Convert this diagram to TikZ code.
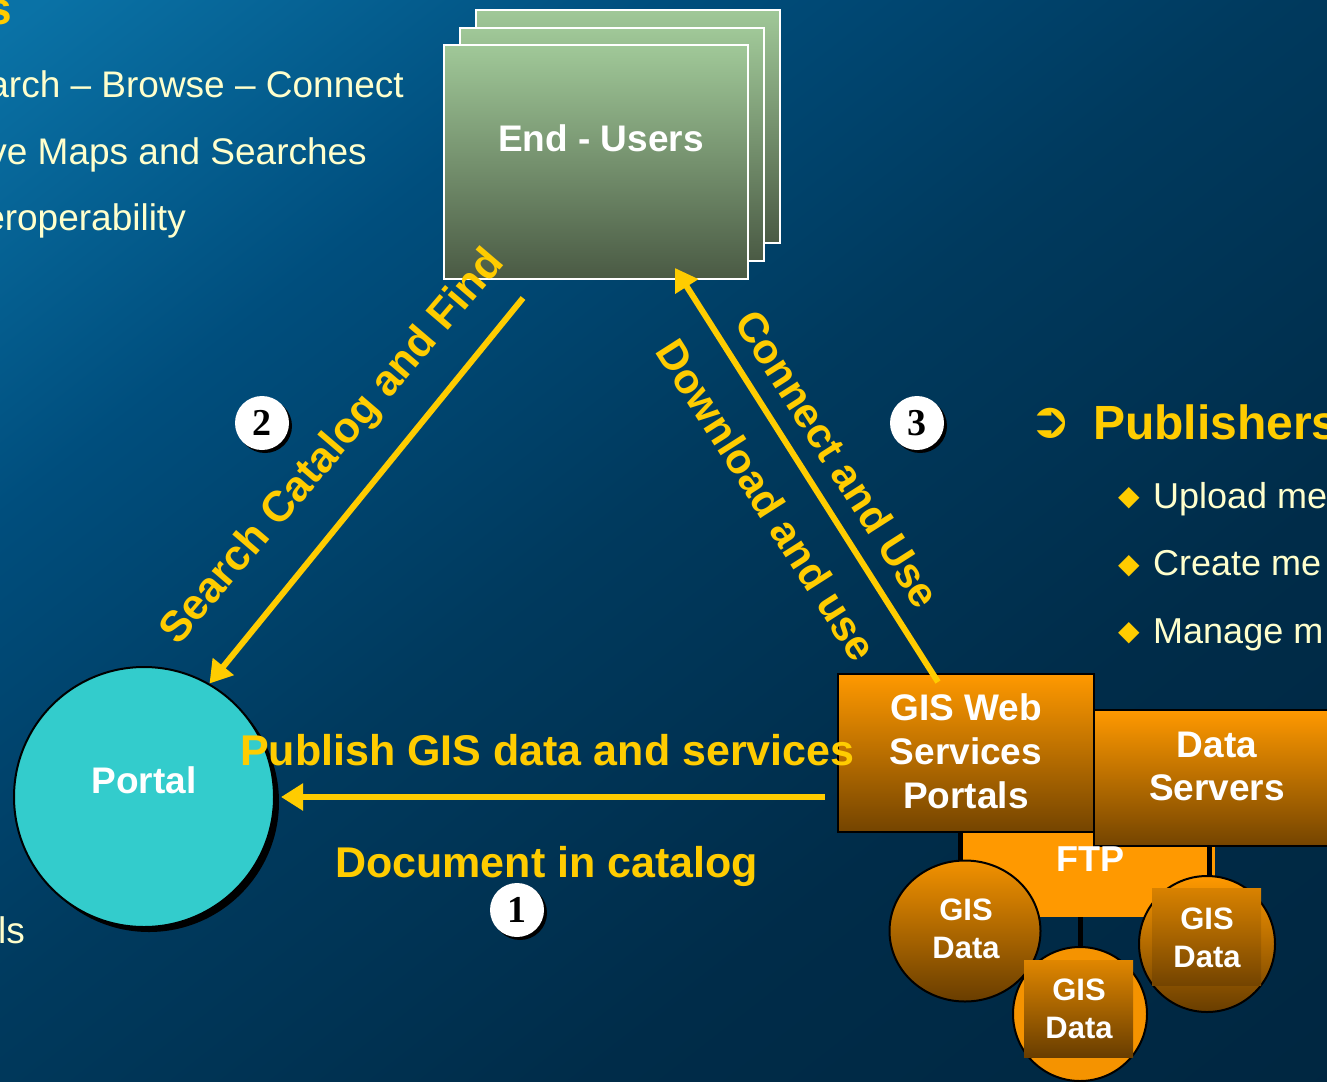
\documentclass[tikz,border=0pt]{standalone}
\usepackage{fontspec}
\setmainfont{Liberation Sans}
\newfontfamily\djv{DejaVu Sans}
\newfontfamily\serifnum{Liberation Serif}
\usetikzlibrary{arrows.meta,shadows,shapes.geometric}
\definecolor{yel}{HTML}{FFCC00}
\definecolor{cream}{HTML}{FFFFCC}
\definecolor{orng}{HTML}{FF9900}
\definecolor{brwn}{HTML}{744400}
\definecolor{turq}{HTML}{33CCCC}
\definecolor{bg0}{HTML}{00223A}
\definecolor{bg1}{HTML}{002C49}
\definecolor{bg2}{HTML}{003A5E}
\definecolor{bg3}{HTML}{004E7D}
\definecolor{bg4}{HTML}{0A72A6}
\definecolor{grnA}{HTML}{A0C898}
\definecolor{grnM}{HTML}{7C9A74}
\definecolor{grnB}{HTML}{4A5A44}
\pgfdeclareverticalshading{bgshade}{100bp}{color(0bp)=(bg0); color(34bp)=(bg1); color(52bp)=(bg2); color(68bp)=(bg3); color(84bp)=(bg4); color(100bp)=(bg4)}
\tikzset{
  eubox/.style={draw=white, line width=2pt, top color=grnA, middle color=grnM, bottom color=grnB, inner sep=0, minimum width=304pt, minimum height=233pt},
  obox/.style={draw=black, line width=2pt, top color=orng, bottom color=brwn, inner sep=0},
  gcirc/.style={draw=black, line width=2pt, inner sep=0},
  blk/.style={draw=black, line width=5pt},
  arr/.style={draw=yel, line width=6pt, -{Triangle[length=22pt,width=26pt]}},
  wtxt/.style={text=white, inner sep=0, align=center},
  lbl/.style={text=yel, inner sep=0, font=\bfseries\fontsize{42}{48}\selectfont},
  creamL/.style={text=cream, inner sep=0, font=\fontsize{37}{44}\selectfont},
  creamR/.style={text=cream, inner sep=0, font=\fontsize{36}{40}\selectfont},
  bul/.style={text=yel, inner sep=0, font=\djv\fontsize{28}{28}\selectfont},
  num/.style={circle, fill=white, minimum size=54pt, inner sep=0, text=black,
    font=\serifnum\bfseries\fontsize{38}{38}\selectfont,
    drop shadow={shadow xshift=3pt,shadow yshift=-3pt,opacity=1,fill=black}}
}
\begin{document}
\begin{tikzpicture}[x=1pt,y=-1pt]
\useasboundingbox (0,0) rectangle (1327,1081);
\clip (0,0) rectangle (1327,1081);
% background
\shade[shading=bgshade, shading angle=38] (0,0) rectangle (1327,1081);

% left text (cut off)
\node[anchor=base east, text=yel, inner sep=0, font=\bfseries\fontsize{46}{50}\selectfont] (ttl) at (12,25) {s};
\node[creamL, anchor=base east] (t1) at (404,97) {arch – Browse – Connect};
\node[creamL, anchor=base east] (t2) at (367,164) {ve Maps and Searches};
\node[creamL, anchor=base east] (t3) at (186,230) {eroperability};
\node[creamL, anchor=base east] (t4) at (25,943) {ls};

% End-users stack
\node[eubox] (eu3) at (628,126.5) {};
\node[eubox] (eu2) at (612,144.5) {};
\node[eubox] (eu) at (595.5,162) {};
\node[wtxt, font=\bfseries\fontsize{37}{44}\selectfont] (eutxt) at (601,138) {End - Users};

% orange boxes
\node[fill=orng, inner sep=0, minimum width=255pt, minimum height=87pt] (ftp) at (1087.5,873.5) {};
\node[obox, minimum width=251pt, minimum height=136pt] (srv) at (1219.5,778) {};
\node[obox, minimum width=256pt, minimum height=158pt] (web) at (966,753) {};

% connectors
\draw[blk] (web.south -| 960,0) -- (960,870);
\draw[blk] (srv.south -| 1209,0) -- (1209,885);
\draw[blk] (ftp.south -| 1080,0) -- (1080,955);

% GIS data circles
\node[gcirc, ellipse, minimum width=151pt, minimum height=141pt, top color=orng!95!black, bottom color=brwn!90!black] (gis1) at (965,931) {};
\node[gcirc, circle, minimum size=136pt, top color=orng, bottom color=brwn!90!black] (gis3) at (1207,944) {};
\node[gcirc, circle, minimum size=134pt, fill=orng!96!black] (gis2) at (1080,1014) {};
\shade[top color=orng!88!black, bottom color=brwn!90!black] (1024,960) rectangle (1133,1057);
\shade[top color=orng!85!black, bottom color=brwn] (1152,888) rectangle (1261,985);

% texts in orange shapes
\node[wtxt, font=\bfseries\fontsize{37}{44}\selectfont] (webtxt) at (966,751) {GIS Web\\Services\\Portals};
\node[wtxt, font=\bfseries\fontsize{37}{43}\selectfont] (srvtxt) at (1217,766) {Data\\Servers};
\node[wtxt, font=\bfseries\fontsize{36}{43}\selectfont] (ftptxt) at (1090,859) {FTP};
\node[wtxt, font=\bfseries\fontsize{31}{38}\selectfont] (g1txt) at (966,929) {GIS\\Data};
\node[wtxt, font=\bfseries\fontsize{31}{38}\selectfont] (g2txt) at (1079,1009) {GIS\\Data};
\node[wtxt, font=\bfseries\fontsize{31}{38}\selectfont] (g3txt) at (1207,938) {GIS\\Data};

% Portal
\node[circle, fill=turq, draw=black, line width=2pt, minimum size=260pt, inner sep=0,
  drop shadow={shadow xshift=5pt,shadow yshift=-5pt,opacity=1,fill=black}] (portal) at (144,797) {};
\node[wtxt, font=\bfseries\fontsize{37}{44}\selectfont] (ptxt) at (144,780) {Portal};

% arrows
\coordinate (a1s) at (523,298);
\coordinate (a3s) at (938,682);
\coordinate (a3e) at (675,268);
\coordinate (a2s) at (825,797);
\coordinate (a2e) at (281,797);
\draw[arr] (a1s) -- (portal.60);
\draw[arr] (a3s) -- (a3e);
\draw[arr] (a2s) -- (a2e);

% arrow labels
\node[lbl, rotate=49.5, text depth=0pt, font=\bfseries\fontsize{43}{48}\selectfont] (lsearch) at (330,445) {Search Catalog and Find};
\node[lbl, rotate=-57.5] (lconn) at (838,459) {Connect and Use};
\node[lbl, rotate=-57.5] (ldown) at (767,500) {Download and use};
\node[lbl, anchor=base west, font=\bfseries\fontsize{43}{48}\selectfont] (lpub) at (240,765) {Publish GIS data and services};
\node[lbl, anchor=base west, font=\bfseries\fontsize{43}{48}\selectfont] (ldoc) at (335,877) {Document in catalog};

% step numbers
\node[num] (n2) at (262,423) {2};
\node[num] (n3) at (917,423) {3};
\node[num] (n1) at (517,910) {1};

% Publishers list
\node[text=yel, inner sep=0, font=\djv\fontsize{50}{50}\selectfont] (parrow) at (1050,423) {➲};
\node[anchor=base west, text=yel, inner sep=0, font=\bfseries\fontsize{48}{52}\selectfont] (pubhd) at (1093,439) {Publishers};
\node[bul] (d1) at (1129,498) {◆};
\node[bul] (d2) at (1129,566) {◆};
\node[bul] (d3) at (1129,633) {◆};
\node[creamR, anchor=base west] (b1) at (1153,508) {Upload me};
\node[creamR, anchor=base west] (b2) at (1153,575) {Create me};
\node[creamR, anchor=base west] (b3) at (1153,643) {Manage m};
\end{tikzpicture}
\end{document}
